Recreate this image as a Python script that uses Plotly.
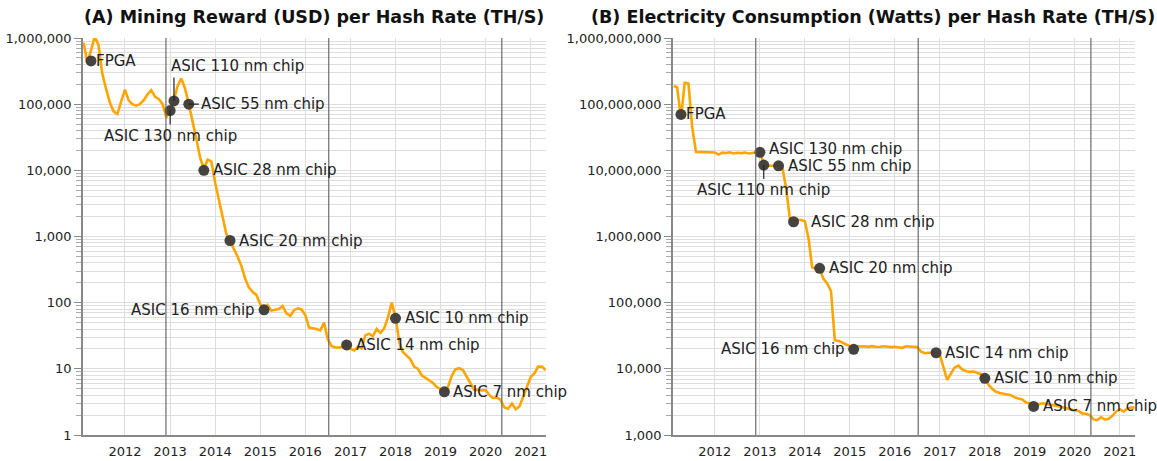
import math
import pandas as pd
import plotly.graph_objects as go

# ---------------- data ----------------
MONTHS = pd.date_range("2011-02-01", "2021-05-01", freq="MS")

REWARD_USD_PER_THS = [
    # 2011 Feb-Dec
    850000, 420000, 650000, 1050000, 780000, 290000, 170000, 105000, 78000, 71000, 110000,
    # 2012
    165000, 113000, 100000, 95000, 100000, 115000, 140000, 163000, 129000, 120000, 100000, 63000,
    # 2013
    80000, 115000, 185000, 245000, 175000, 100000, 52000, 30000, 15500, 10500, 14500, 13500,
    # 2014
    6500, 3600, 2000, 1100, 850, 660, 500, 360, 230, 170, 145, 131,
    # 2015
    95, 80, 92, 76, 77, 80, 89, 69, 63, 77, 82, 79,
    # 2016
    65, 42, 41, 40, 38, 50, 28, 22, 21, 21, 21.6, 23,
    # 2017
    20, 19, 21.6, 20.4, 32, 34, 31, 40, 35, 41, 60, 100,
    # 2018
    60, 25, 18, 16, 14, 10.8, 10.0, 8.0, 7.3, 6.8, 6.1, 5.3,
    # 2019
    4.9, 4.6, 5.3, 7.8, 9.8, 10.2, 9.6, 7.5, 5.8, 4.8, 4.8, 4.7,
    # 2020
    4.8, 4.0, 3.6, 3.7, 3.4, 2.6, 2.5, 3.0, 2.45, 2.7, 3.8, 5.3,
    # 2021 Jan-May
    7.6, 8.6, 10.8, 10.8, 9.6,
]

POWER_W_PER_THS = [
    # 2011 Feb-Dec
    188e6, 180e6, 60e6, 210e6, 205e6, 45e6, 19e6, 19e6, 18.7e6, 19e6, 18.6e6,
    # 2012
    18.6e6, 17.3e6, 18.5e6, 18.3e6, 18.7e6, 18.0e6, 18.4e6, 18.2e6, 18.6e6, 18.0e6, 18.4e6, 18.6e6,
    # 2013
    18.7e6, 12.5e6, 11.7e6, 11.8e6, 11.7e6, 11.7e6, 11.3e6, 5.5e6, 1.9e6, 1.7e6, 1.78e6, 1.78e6,
    # 2014
    1.7e6, 900e3, 340e3, 330e3, 320e3, 230e3, 195e3, 150e3, 27e3, 26.5e3, 25e3, 23e3,
    # 2015
    22e3, 21.5e3, 22e3, 21.7e3, 21.9e3, 21.5e3, 22e3, 21.6e3, 21.4e3, 21.9e3, 21.5e3, 21.3e3,
    # 2016
    21.6e3, 21.4e3, 20.8e3, 21.9e3, 21.6e3, 21.8e3, 21.3e3, 18.2e3, 17.2e3, 17.5e3, 17.6e3, 17.5e3,
    # 2017
    16.2e3, 10.6e3, 6.8e3, 8.5e3, 10.5e3, 11.2e3, 9.8e3, 9.2e3, 9.0e3, 9.1e3, 8.8e3, 8.3e3,
    # 2018
    7.3e3, 5.7e3, 5.0e3, 4.5e3, 4.3e3, 4.25e3, 4.1e3, 4.0e3, 3.7e3, 3.55e3, 3.45e3, 3.1e3,
    # 2019
    3.0e3, 2.95e3, 2.85e3, 3.0e3, 3.0e3, 2.9e3, 2.85e3, 2.75e3, 2.7e3, 2.6e3, 2.5e3, 2.4e3,
    # 2020
    2.35e3, 2.3e3, 2.12e3, 2.1e3, 2.0e3, 1.72e3, 1.68e3, 1.85e3, 1.72e3, 1.75e3, 1.95e3, 2.25e3,
    # 2021 Jan-May
    2.45e3, 2.25e3, 2.5e3, 2.6e3, 2.6e3,
]

CHIPS = ["FPGA", "ASIC 130 nm chip", "ASIC 110 nm chip", "ASIC 55 nm chip",
         "ASIC 28 nm chip", "ASIC 20 nm chip", "ASIC 16 nm chip",
         "ASIC 14 nm chip", "ASIC 10 nm chip", "ASIC 7 nm chip"]
CHIP_DATES = ["2011-04-01", "2013-01-01", "2013-02-01", "2013-06-01", "2013-10-01",
              "2014-05-01", "2015-02-01", "2016-12-01", "2018-01-01", "2019-02-01"]
CHIP_REWARD = [450000, 80000, 112000, 100000, 10000, 870, 78, 23, 58, 4.5]
CHIP_POWER = [70e6, 18.7e6, 12e6, 11.7e6, 1.67e6, 330e3, 19.7e3, 17.5e3, 7.2e3, 2.7e3]

HALVINGS = ["2012-11-28", "2016-07-09", "2020-05-11"]

YEAR_RANGE = ["2011-01-26", "2021-05-04"]

Y_TICKS_A = [1, 10, 100, 1000, 10000, 100000, 1000000]
Y_TEXT_A = ["1", "10", "100", "1,000", "10,000", "100,000", "1,000,000"]
Y_TICKS_B = [1e3, 1e4, 1e5, 1e6, 1e7, 1e8, 1e9]
Y_TEXT_B = ["1,000", "10,000", "100,000", "1,000,000", "10,000,000", "100,000,000", "1,000,000,000"]

TITLE_A = "(A) Mining Reward (USD) per Hash Rate (TH/S)"
TITLE_B = "(B) Electricity Consumption (Watts) per Hash Rate (TH/S)"

# ---------------- style ----------------
FONT = "DejaVu Sans"
ORANGE = "#FFA500"
DOT = "#3c3a38"
GRID = "#dedede"
AXIS = "#888888"
TEXT = "#222222"

# label placement style per chip (panel A / panel B)
STYLE_A = ["tight", "below", "above", "dash", "right", "right", "left", "right", "right", "right"]
STYLE_B = ["tight", "rightup", "below", "right", "right17", "right", "left", "right", "right", "right"]

fig = go.Figure()

panels = [
    ("x", "y", REWARD_USD_PER_THS, CHIP_REWARD, STYLE_A),
    ("x2", "y2", POWER_W_PER_THS, CHIP_POWER, STYLE_B),
]

annotations = []
for xa, ya, series, chipvals, styles in panels:
    fig.add_trace(go.Scatter(x=MONTHS, y=series, mode="lines",
                             line=dict(color=ORANGE, width=2.6),
                             xaxis=xa, yaxis=ya, showlegend=False, hoverinfo="x+y"))
    fig.add_trace(go.Scatter(x=CHIP_DATES, y=chipvals, mode="markers",
                             marker=dict(color=DOT, size=11, opacity=0.95),
                             text=CHIPS, xaxis=xa, yaxis=ya, showlegend=False,
                             hoverinfo="text+y"))
    for name, d, v, st in zip(CHIPS, CHIP_DATES, chipvals, styles):
        ly = math.log10(v)
        base = dict(x=d, y=ly, xref=xa, yref=ya, text=name,
                    font=dict(family=FONT, size=15, color=TEXT))
        if st == "tight":
            annotations.append(dict(base, showarrow=False, xanchor="left",
                                    yanchor="middle", xshift=3))
        elif st.startswith("right"):
            gap = 15 if st == "right17" else 7
            annotations.append(dict(base, showarrow=False, xanchor="left",
                                    yanchor="middle", xshift=gap,
                                    yshift=3 if st == "rightup" else 0))
        elif st == "left":
            annotations.append(dict(base, showarrow=False, xanchor="right",
                                    yanchor="middle", xshift=-7))
        elif st == "dash":
            annotations.append(dict(base, showarrow=True, ax=10, ay=0,
                                    xanchor="left", yanchor="middle",
                                    arrowhead=0, arrowwidth=1.2, arrowcolor=TEXT))
        elif st == "below":
            annotations.append(dict(base, showarrow=True, ax=0, ay=14,
                                    xanchor="center", yanchor="top",
                                    arrowhead=0, arrowwidth=1.2, arrowcolor=TEXT))
        elif st == "above":
            annotations.append(dict(x=d, y=ly, xref=xa, yref=ya, text="",
                                    showarrow=True, ax=0, ay=-25, arrowhead=0,
                                    arrowwidth=1.2, arrowcolor=TEXT))
            annotations.append(dict(base, showarrow=False, xanchor="left",
                                    yanchor="bottom", xshift=-5, yshift=24))

# titles
annotations.append(dict(text="<b>%s</b>" % TITLE_A, xref="paper", yref="paper",
                        x=0.2200, y=1.053, xanchor="center", yanchor="middle",
                        showarrow=False, font=dict(family=FONT, size=17.5, color="#111111")))
annotations.append(dict(text="<b>%s</b>" % TITLE_B, xref="paper", yref="paper",
                        x=1.021, y=1.053, xanchor="right", yanchor="middle",
                        showarrow=False, font=dict(family=FONT, size=17.5, color="#111111")))

shapes = []
for xa, ya in [("x", "y"), ("x2", "y2")]:
    for h in HALVINGS:
        shapes.append(dict(type="line", xref=xa, yref=ya + " domain",
                           x0=h, x1=h, y0=0, y1=1, layer="above",
                           line=dict(color="#6a6a6a", width=1.2)))


def xaxis(domain, anchor):
    return dict(domain=domain, anchor=anchor, type="date", range=YEAR_RANGE,
                tick0="2012-01-01", dtick="M12", tickformat="%Y",
                showgrid=True, gridcolor=GRID, gridwidth=1,
                showline=True, linecolor=AXIS, linewidth=1.5,
                ticks="", ticklabelstandoff=4, automargin=False,
                tickfont=dict(family=FONT, size=13, color=TEXT), zeroline=False)


def yaxis(ticks, texts, anchor):
    lo = math.log10(ticks[0])
    minor_vals = [m * 10 ** k for k in range(int(lo), int(lo) + 6) for m in range(2, 10)]
    return dict(type="log", range=[lo, lo + 6], anchor=anchor, automargin=False,
                tickmode="array", tickvals=ticks, ticktext=texts,
                showgrid=True, gridcolor=GRID, gridwidth=1,
                showline=True, linecolor=AXIS, linewidth=1.5,
                ticks="outside", ticklen=7, tickcolor=AXIS, tickwidth=1,
                tickfont=dict(family=FONT, size=13, color=TEXT),
                minor=dict(tickmode="array", tickvals=minor_vals, ticks="outside",
                           ticklen=5, tickcolor="#aaaaaa", showgrid=True,
                           gridcolor=GRID, gridwidth=1),
                zeroline=False)


fig.update_layout(
    width=1157, height=461,
    margin=dict(l=83, r=22, t=38, b=26, pad=0, autoexpand=False),
    paper_bgcolor="white", plot_bgcolor="white",
    font=dict(family=FONT, size=13, color=TEXT),
    xaxis=xaxis([0, 0.4401], "y"),
    xaxis2=xaxis([0.5608, 1.0], "y2"),
    yaxis=yaxis(Y_TICKS_A, Y_TEXT_A, "x"),
    yaxis2=yaxis(Y_TICKS_B, Y_TEXT_B, "x2"),
    annotations=annotations,
    shapes=shapes,
    showlegend=False,
)

fig.write_html("out.html", config={"displayModeBar": False},
               post_script="document.body.style.margin='0';document.body.style.overflow='hidden';")
